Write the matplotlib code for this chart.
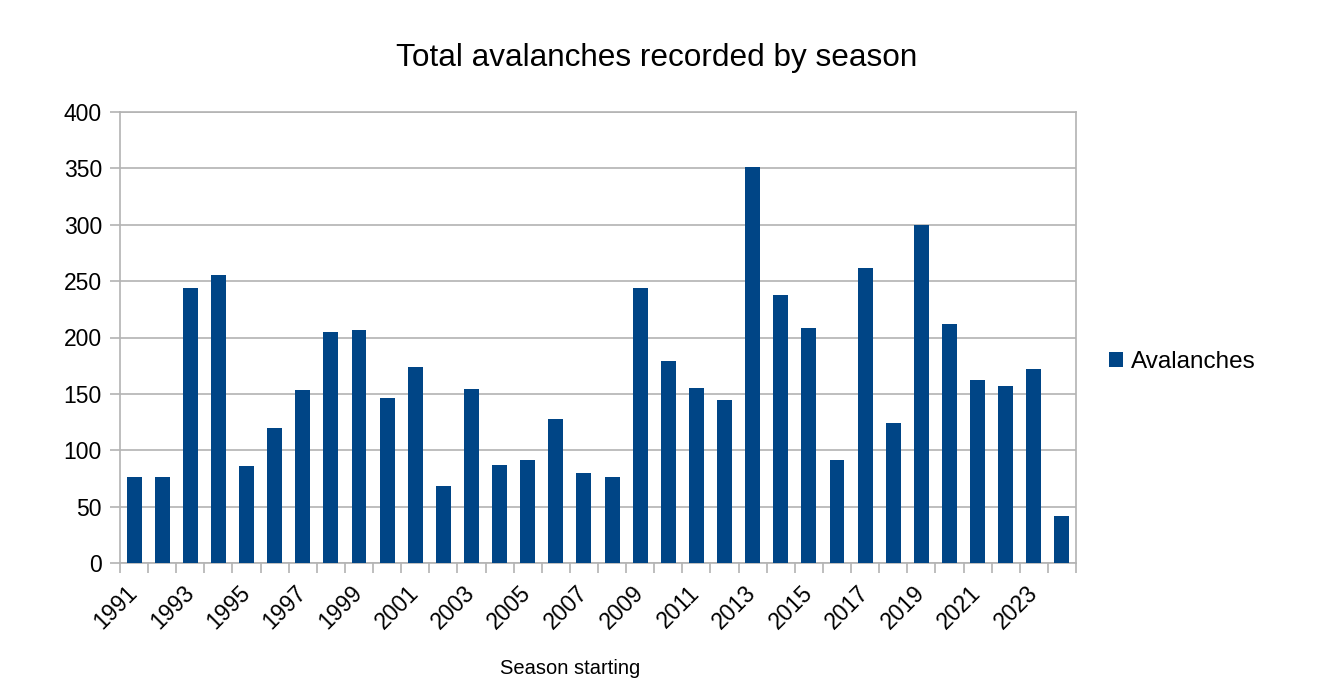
import matplotlib.pyplot as plt
import numpy as np

plt.rcParams['font.family'] = ['Liberation Sans', 'DejaVu Sans']

years = list(range(1991, 2025))
avalanches = [76, 76, 244, 255, 86, 120, 153, 205, 207, 146,
              174, 68, 154, 87, 91, 128, 80, 76, 244, 179,
              155, 145, 351, 238, 208, 91, 262, 124, 300, 212,
              162, 157, 172, 42]
tick_labels = [str(y) if (y - 1991) % 2 == 0 else '' for y in years]

bar_color = '#004586'
grid_color = '#b3b3b3'

fig = plt.figure(figsize=(13.22, 7.0), dpi=100)
ax = fig.add_axes([120/1322, 1 - 563/700, 956/1322, 451/700])

x = np.arange(len(years))
ax.bar(x, avalanches, width=0.53, color=bar_color, label='Avalanches', zorder=3)

ax.set_xlim(-0.5, len(years) - 0.5)
ax.set_ylim(0, 400)
ax.set_yticks(range(0, 401, 50))
ax.yaxis.grid(True, color=grid_color, linewidth=1.2, zorder=0)
ax.tick_params(axis='y', length=7, width=1.2, color=grid_color, labelsize=16.5, pad=6)

# category boundary ticks, labels at every other category
ax.set_xticks(x)
ax.set_xticklabels(tick_labels, rotation=45, ha='right', va='center',
                   rotation_mode='anchor')
ax.tick_params(axis='x', which='major', length=0, labelsize=16.5, pad=19)
ax.set_xticks(list(x - 0.5) + [len(years) - 0.5], minor=True)
ax.tick_params(axis='x', which='minor', length=7, width=1.2, color=grid_color)

for s in ax.spines.values():
    s.set_color(grid_color)
    s.set_linewidth(1.2)

fig.text(657/1322, 1 - 58/700, 'Total avalanches recorded by season',
         ha='center', va='center', fontsize=22.7)
fig.text(570/1322, 1 - 669/700, 'Season starting', ha='center', va='center', fontsize=14.5)

fig.legend(loc='center left', bbox_to_anchor=(1087/1322, 1 - 362/700), frameon=False,
           fontsize=17.5, handlelength=0.6, handleheight=0.6, handletextpad=0.3)

fig.savefig('out.png', dpi=100)
